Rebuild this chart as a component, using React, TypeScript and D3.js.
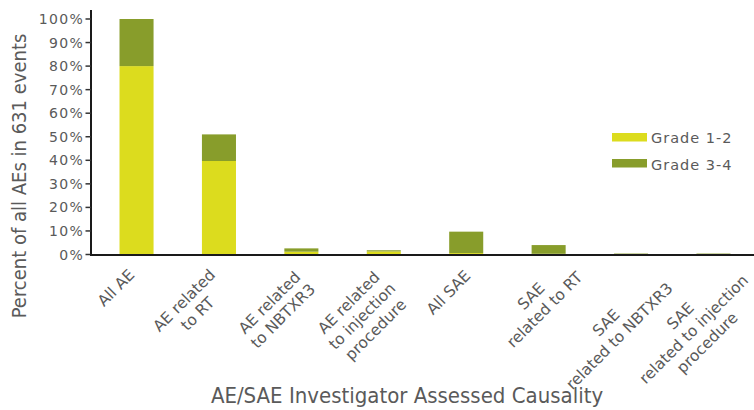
import React from "react";
import * as d3 from "d3";

const categories: string[][] = [
  ["All AE"],
  ["AE related", "to RT"],
  ["AE related", "to NBTXR3"],
  ["AE related", "to injection", "procedure"],
  ["All SAE"],
  ["SAE", "related to RT"],
  ["SAE", "related to NBTXR3"],
  ["SAE", "related to injection", "procedure"],
];
const grade12 = [80, 39.7, 1.2, 1.3, 0.6, 0.3, 0.15, 0.15];
const grade34 = [20, 11.3, 1.4, 0.5, 9.1, 3.7, 0.25, 0.25];
const seriesNames = ["Grade 1-2", "Grade 3-4"];
const seriesColors = ["#dcdc1e", "#889d2b"];
const yTicks = [0, 10, 20, 30, 40, 50, 60, 70, 80, 90, 100];
const yTitle = "Percent of all AEs in 631 events";
const xTitle = "AE/SAE Investigator Assessed Causality";

// layout: nudge of each rotated label block's top-right corner from its bar centre
const labelNudgeX = [-9.5, -11, -7, -9, -3, 13, 21, 14];
const labelNudgeY = [13, 13, 14, 13, 14, 2, 13, 5];

const W = 754;
const H = 410;
const TEXT = "#5a5a5a";
const LABEL_FONT = 15.5;
const LINE_H = 19;

let ctx: CanvasRenderingContext2D | null = null;
function measure(s: string, font: string): number {
  if (!ctx) {
    const c = document.createElement("canvas");
    ctx = c.getContext("2d");
  }
  if (!ctx) return s.length * 8;
  ctx.font = font;
  return ctx.measureText(s).width;
}

export default function App() {
  const keys = categories.map((c) => c.join(" "));
  const x = d3
    .scaleBand<string>()
    .domain(keys)
    .range([91, 759])
    .paddingInner(0.587)
    .paddingOuter(0.346);
  const y = d3.scaleLinear().domain([0, 100]).range([254.5, 19]);

  const rows = keys.map((k, i) => ({ key: k, g12: grade12[i], g34: grade34[i] }));
  const stacked = d3.stack<any>().keys(["g12", "g34"])(rows);

  const axisY = y(0);
  const labelFont = `${LABEL_FONT}px "DejaVu Sans"`;

  return (
    <svg width={W} height={H} style={{ position: "absolute", left: 0, top: 0, background: "#fff" }}>
      {stacked.map((s, si) =>
        s.map((d, i) => (
          <rect
            key={`${si}-${i}`}
            x={x(keys[i])}
            width={x.bandwidth()}
            y={y(d[1])}
            height={Math.max(0, y(d[0]) - y(d[1]))}
            fill={seriesColors[si]}
          />
        ))
      )}
      {/* y axis */}
      <line x1={91} x2={91} y1={10} y2={axisY + 1} stroke="#1a1a1a" strokeWidth={2} />
      {yTicks.map((t) => (
        <g key={t}>
          <line x1={85.5} x2={91} y1={y(t)} y2={y(t)} stroke="#333" strokeWidth={1.5} />
          <text
            x={84}
            y={y(t)}
            dy="0.36em"
            textAnchor="end"
            fill={TEXT}
            style={{ font: '14px "DejaVu Sans"', letterSpacing: "1.3px" }}
          >
            {t}%
          </text>
        </g>
      ))}
      {/* x axis */}
      <line x1={90} x2={754} y1={axisY + 0.5} y2={axisY + 0.5} stroke="#1a1a1a" strokeWidth={2} />
      {categories.map((lines, i) => {
        const cx = (x(keys[i]) as number) + x.bandwidth() / 2;
        const bw = Math.max(...lines.map((l) => measure(l, labelFont)));
        const ax = cx + labelNudgeX[i];
        const ay = axisY + labelNudgeY[i];
        return (
          <g key={keys[i]} transform={`translate(${ax},${ay}) rotate(-45)`}>
            {lines.map((l, j) => (
              <text
                key={j}
                x={-bw / 2}
                y={j * LINE_H + LABEL_FONT * 0.76}
                textAnchor="middle"
                fill={TEXT}
                style={{ font: labelFont }}
              >
                {l}
              </text>
            ))}
          </g>
        );
      })}
      {/* titles */}
      <text
        transform={`translate(26,176) rotate(-90)`}
        textAnchor="middle"
        fill={TEXT}
        style={{ font: '20px "DejaVu Sans Condensed", "DejaVu Sans"', fontStretch: "condensed" }}
      >
        {yTitle}
      </text>
      <text
        x={407}
        y={403}
        textAnchor="middle"
        fill={TEXT}
        style={{ font: '22px "DejaVu Sans Condensed", "DejaVu Sans"', fontStretch: "condensed" }}
      >
        {xTitle}
      </text>
      {/* legend */}
      {seriesNames.map((n, i) => (
        <g key={n}>
          <rect x={612} y={133 + i * 26} width={35} height={8.5} fill={seriesColors[i]} />
          <text
            x={651}
            y={143 + i * 26.5}
            fill={TEXT}
            style={{ font: '14.5px "DejaVu Sans"', letterSpacing: "1px" }}
          >
            {n}
          </text>
        </g>
      ))}
    </svg>
  );
}
